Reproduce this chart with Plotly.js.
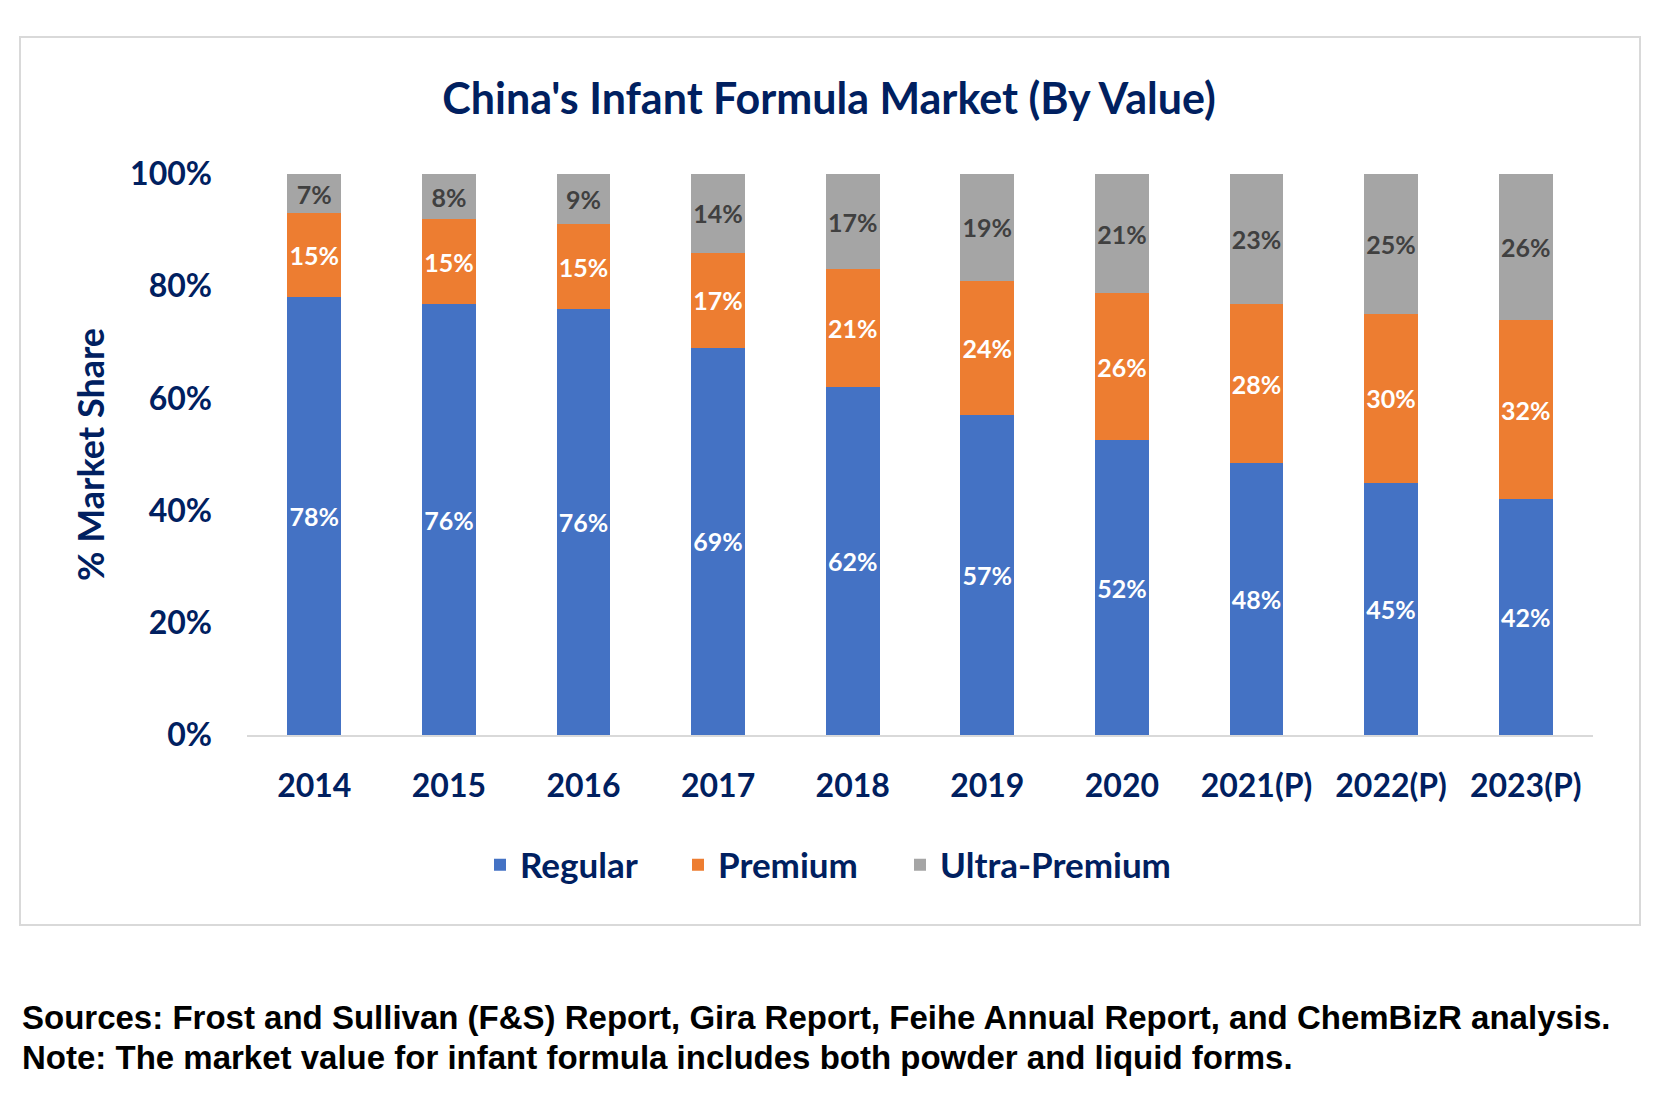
<!DOCTYPE html>
<html>
<head>
<meta charset="utf-8">
<script src="https://cdn.plot.ly/plotly-3.0.1.min.js"></script>
<style>
  html, body { margin: 0; padding: 0; background: #ffffff; }
  #grafico { width: 1672px; height: 1106px; }
</style>
</head>
<body>
<div id="grafico"></div>
<script>
  // Dados (% do valor de mercado)
  const anos = ['2014', '2015', '2016', '2017', '2018', '2019', '2020', '2021(P)', '2022(P)', '2023(P)'];
  const regular = [78, 76, 76, 69, 62, 57, 52, 48, 45, 42];
  const premium = [15, 15, 15, 17, 21, 24, 26, 28, 30, 32];
  const ultraPremium = [7, 8, 9, 14, 17, 19, 21, 23, 25, 26];
  const yTicks = [0, 20, 40, 60, 80, 100];
  const yTickLabels = yTicks.map(v => v + '%');

  const fontes = [
    'Sources: Frost and Sullivan (F&S) Report, Gira Report, Feihe Annual Report, and ChemBizR analysis.',
    'Note: The market value for infant formula includes both powder and liquid forms.'
  ];

  const AZUL_ESCURO = '#002060';
  const FONTE = 'Lato, "Noto Sans", sans-serif';

  // area do grafico em pixels, usada para converter posicoes em coordenadas "paper"
  const AREA = { left: 247, right: 1593, top: 174, bottom: 735 };
  const px = x => (x - AREA.left) / (AREA.right - AREA.left);
  const py = y => (AREA.bottom - y) / (AREA.bottom - AREA.top);

  /**
   * Cria uma serie de barras empilhadas.
   * @param {string} nome - Nome da serie (legenda).
   * @param {number[]} valores - Valores em %.
   * @param {string} cor - Cor da barra.
   * @param {string} corTexto - Cor do rotulo dentro da barra.
   * @param {string} legenda - Id da legenda onde a serie aparece.
   */
  function criarSerie(nome, valores, cor, corTexto, legenda) {
    return {
      name: nome,
      x: anos,
      y: valores,
      type: 'bar',
      legend: legenda,
      marker: { color: cor },
      text: valores.map(v => v + '%'),
      textposition: 'inside',
      insidetextanchor: 'middle',
      textangle: 0,
      insidetextfont: { family: FONTE, size: 25, color: corTexto, weight: 700 },
      hovertemplate: nome + ' %{x}: %{text}<extra></extra>'
    };
  }

  const traces = [
    criarSerie('Regular', regular, '#4472C4', '#ffffff', 'legend'),
    criarSerie('Premium', premium, '#ED7D31', '#ffffff', 'legend2'),
    criarSerie('Ultra-Premium', ultraPremium, '#A5A5A5', '#404040', 'legend3')
  ];

  /**
   * Monta uma legenda horizontal posicionada em x (px).
   * @param {number} x - Posicao horizontal em pixels.
   */
  function criarLegenda(x) {
    return {
      orientation: 'h',
      x: px(x),
      xanchor: 'left',
      y: py(865),
      yanchor: 'middle',
      font: { family: FONTE, size: 35, color: AZUL_ESCURO, weight: 700 },
      bgcolor: 'rgba(0,0,0,0)'
    };
  }

  const layout = {
    width: 1672,
    height: 1106,
    margin: { l: AREA.left, r: 1672 - AREA.right, t: AREA.top, b: 1106 - AREA.bottom },
    barmode: 'stack',
    barnorm: 'percent',
    bargap: 0.6,
    paper_bgcolor: '#ffffff',
    plot_bgcolor: '#ffffff',
    font: { family: FONTE, color: AZUL_ESCURO, weight: 700 },
    title: {
      text: "China's Infant Formula Market (By Value)",
      font: { family: FONTE, size: 43, color: AZUL_ESCURO, weight: 700 },
      xref: 'container',
      yref: 'container',
      x: 829 / 1672,
      xanchor: 'center',
      y: 1 - 99 / 1106,
      yanchor: 'middle'
    },
    xaxis: {
      type: 'category',
      tickfont: { family: FONTE, size: 32, color: AZUL_ESCURO, weight: 700 },
      showline: true,
      linecolor: '#D9D9D9',
      linewidth: 2,
      ticks: '',
      ticklabelstandoff: 22,
      showgrid: false,
      fixedrange: true
    },
    yaxis: {
      range: [0, 100],
      tickmode: 'array',
      tickvals: yTicks,
      ticktext: yTickLabels,
      tickfont: { family: FONTE, size: 32, color: AZUL_ESCURO, weight: 700 },
      showgrid: false,
      zeroline: false,
      showline: false,
      ticks: '',
      ticklabelstandoff: 34,
      fixedrange: true,
      title: {
        text: '% Market Share',
        font: { family: FONTE, size: 36, color: AZUL_ESCURO, weight: 700 },
        standoff: 14
      }
    },
    legend: criarLegenda(480),
    legend2: criarLegenda(678),
    legend3: criarLegenda(900),
    uniformtext: { mode: 'show', minsize: 25 },
    shapes: [{
      type: 'rect',
      xref: 'paper',
      yref: 'paper',
      x0: px(20),
      x1: px(1640),
      y0: py(925),
      y1: py(37),
      line: { color: '#D9D9D9', width: 2 },
      fillcolor: 'rgba(0,0,0,0)',
      layer: 'below'
    }],
    annotations: fontes.map((linha, i) => ({
      text: linha,
      xref: 'paper',
      yref: 'paper',
      x: px(20),
      xanchor: 'left',
      y: py(1017 + i * 40),
      yanchor: 'middle',
      showarrow: false,
      font: { family: '"Liberation Sans", Arial, sans-serif', size: 33, color: '#000000', weight: 700 }
    })),
    showlegend: true
  };

  const config = { displayModeBar: false, responsive: false, staticPlot: true };

  Plotly.newPlot('grafico', traces, layout, config);
</script>
</body>
</html>
